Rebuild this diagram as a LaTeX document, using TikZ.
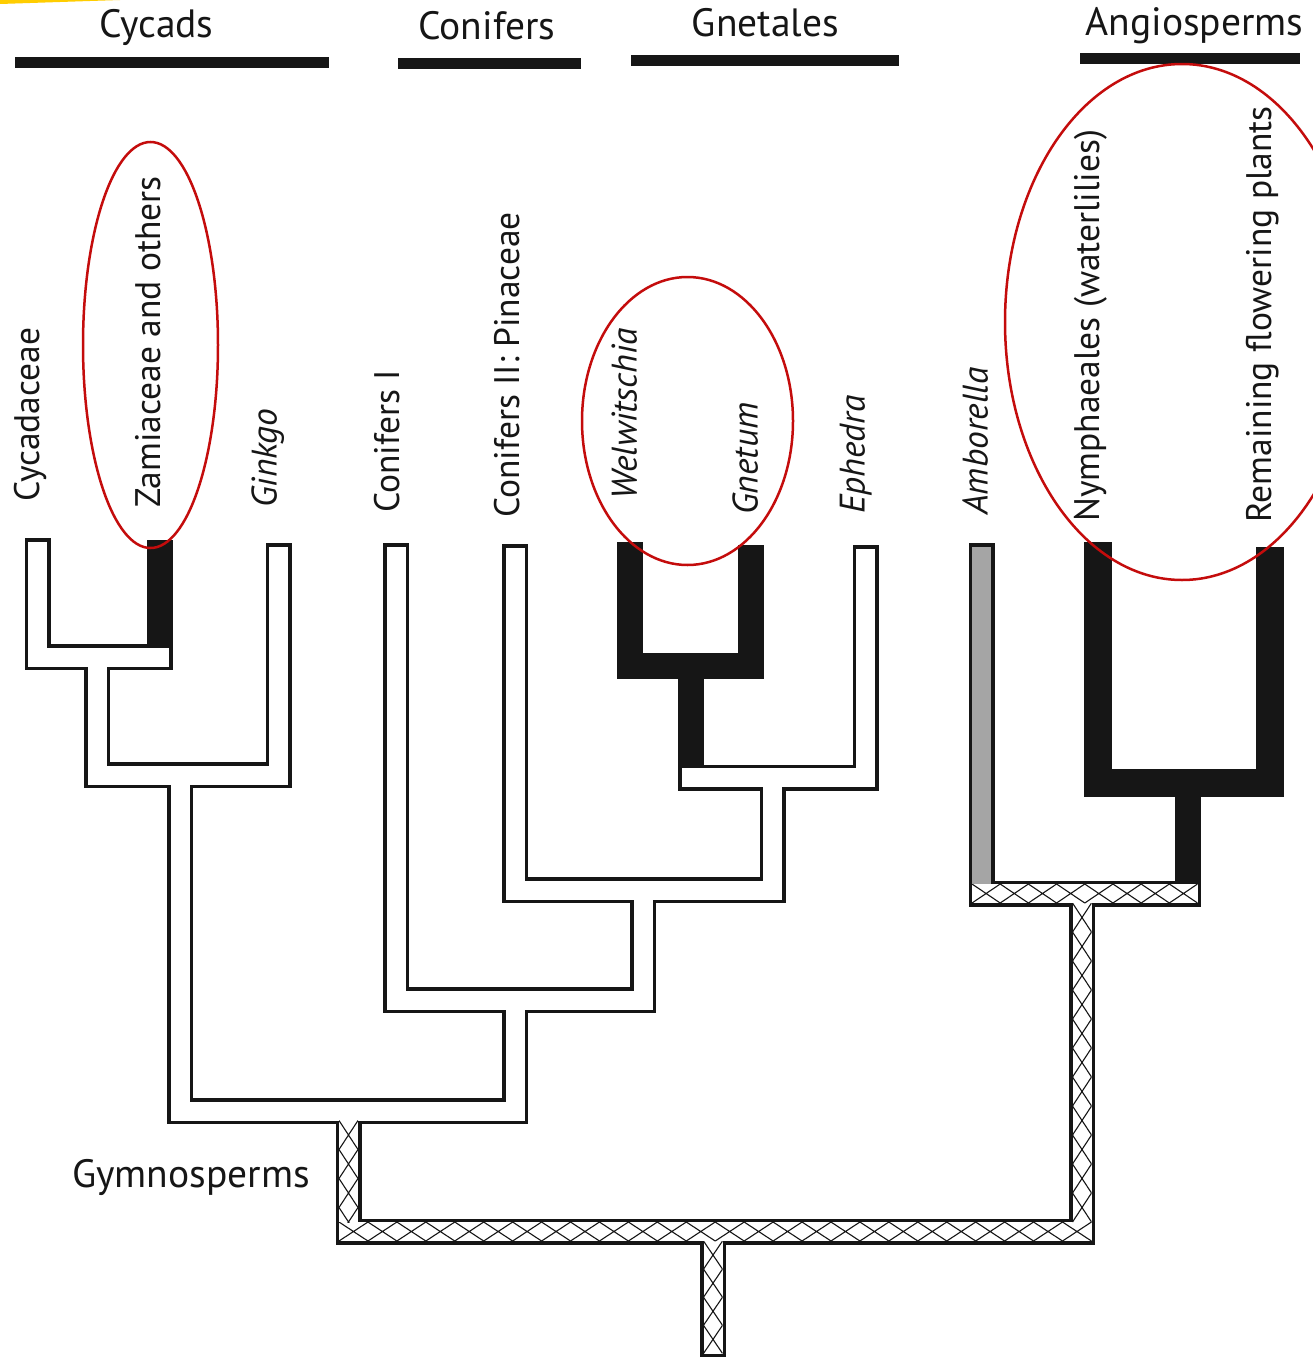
\documentclass[tikz,border=0pt]{standalone}
\usepackage{fontspec}
\setmainfont{PT Sans}
\definecolor{ellred}{RGB}{196,12,12}
\definecolor{ink}{RGB}{22,22,22}
\definecolor{ambgray}{RGB}{165,165,165}
\definecolor{hl}{RGB}{255,205,0}
\begin{document}
\begin{tikzpicture}[x=1pt,y=-1pt,
  casing/.style={line width=26pt,line cap=rect,line join=miter,draw=ink},
  casingwide/.style={casing,line width=28pt},
  innerw/.style={line width=19pt,line cap=rect,line join=miter,draw=white},
  innerg/.style={innerw,draw=ambgray},
  hatch/.style={draw=ink,line width=1.1pt},
  taxon/.style={rotate=90,anchor=mid west,inner sep=0pt,text=ink,font=\fontsize{35.5}{40}\selectfont},
  itaxon/.style={taxon,font=\fontsize{35.5}{40}\selectfont\itshape},
  header/.style={anchor=base,inner sep=0pt,text=ink,font=\fontsize{39.5}{44}\selectfont},
  hbar/.style={fill=ink},
  oval/.style={draw=ellred,line width=2.5pt}]
\useasboundingbox (0,0) rectangle (1312,1360);
\fill[white] (0,0) rectangle (1312,1360);
\fill[hl] (0,0) -- (120,0) -- (0,4) -- cycle;

% tips
\coordinate (cyc) at (37.5,551);
\coordinate (zam) at (159.5,553);
\coordinate (gin) at (278.5,556);
\coordinate (con1) at (396,556);
\coordinate (con2) at (515,557);
\coordinate (wel) at (629.5,555);
\coordinate (gne) at (751,558);
\coordinate (eph) at (865.5,558);
\coordinate (amb) at (981.5,556);
\coordinate (nym) at (1097.5,556);
\coordinate (rem) at (1270,561);
% internal nodes
\coordinate (nCZ) at (97,657);
\coordinate (nCG) at (180,775);
\coordinate (nWG) at (691,666);
\coordinate (nWGE) at (772.5,777.5);
\coordinate (nC2G) at (643,890);
\coordinate (nC1) at (515,1000);
\coordinate (nGym) at (348.5,1111);
\coordinate (nNR) at (1188,782.5);
\coordinate (nAng) at (1082,893.5);
\coordinate (nRoot) at (713,1231.5);
\coordinate (base) at (713,1344);

% pass 1: outlines / black branches
\draw[casing] (cyc) |- (nCZ);
\draw[casing] (zam) |- (nCZ);
\draw[casing] (nCZ) |- (nCG);
\draw[casing] (gin) |- (nCG);
\draw[casing] (nCG) |- (nGym);
\draw[casing] (con1) |- (nC1);
\draw[casing] (con2) |- (nC2G);
\draw[casing] (wel) |- (nWG);
\draw[casing] (gne) |- (nWG);
\draw[casing] (nWG) |- (nWGE);
\draw[casing] (eph) |- (nWGE);
\draw[casing] (nWGE) |- (nC2G);
\draw[casing] (nC2G) |- (nC1);
\draw[casing] (nC1) |- (nGym);
\draw[casing] (nGym) |- (nRoot);
\draw[casing] (amb) |- (nAng);
\draw[casingwide] (nym) |- (nNR);
\draw[casingwide] (rem) |- (nNR);
\draw[casing] (nNR) |- (nAng);
\draw[casing] (nAng) |- (nRoot);
\draw[casing] (nRoot) -- (base);

% pass 2: white interiors
\draw[innerw] (cyc) |- (zam |- nCZ);
\draw[innerw] (nCZ) |- (nCG);
\draw[innerw] (gin) |- (nCG);
\draw[innerw] (nCG) |- (nGym);
\draw[innerw] (con1) |- (nC1);
\draw[innerw] (con2) |- (nC2G);
\draw[innerw] (eph) |- (nWG |- nWGE);
\draw[innerw] (nWGE) |- (nC2G);
\draw[innerw] (nC2G) |- (nC1);
\draw[innerw] (nC1) |- (nGym);
% Amborella grey
\draw[innerg] (amb) -- (amb |- nAng);
% hatched interiors
\draw[innerw] (amb |- nAng) -- (nNR |- nAng);
\draw[innerw] (nAng) |- (nRoot);
\draw[innerw] (nGym) |- (nRoot);
\draw[innerw] (nRoot) -- (base);

% cross-hatching
\begin{scope}
\clip (972,884) rectangle (1197.5,903);
\foreach \i in {0,...,7}{
  \draw[hatch] ({972+\i*28.19},884) -- ({972+(\i+1)*28.19},903)
               ({972+(\i+1)*28.19},884) -- ({972+\i*28.19},903);}
\end{scope}
\begin{scope}
\clip (339,1222) rectangle (1091.5,1241);
\foreach \i in {0,...,25}{
  \draw[hatch] ({339+\i*28.94},1222) -- ({339+(\i+1)*28.94},1241)
               ({339+(\i+1)*28.94},1222) -- ({339+\i*28.94},1241);}
\end{scope}
\begin{scope}
\clip (1072.5,903) rectangle (1091.5,1222);
\foreach \i in {0,...,10}{
  \draw[hatch] (1072.5,{903+\i*29}) -- (1091.5,{903+(\i+1)*29})
               (1091.5,{903+\i*29}) -- (1072.5,{903+(\i+1)*29});}
\end{scope}
\begin{scope}
\clip (339,1120.5) rectangle (358,1222);
\foreach \i in {0,...,3}{
  \draw[hatch] (339,{1120.5+\i*29}) -- (358,{1120.5+(\i+1)*29})
               (358,{1120.5+\i*29}) -- (339,{1120.5+(\i+1)*29});}
\end{scope}
\begin{scope}
\clip (703.5,1241) rectangle (722.5,1353.5);
\foreach \i in {0,...,3}{
  \draw[hatch] (703.5,{1241+\i*28.1}) -- (722.5,{1241+(\i+1)*28.1})
               (722.5,{1241+\i*28.1}) -- (703.5,{1241+(\i+1)*28.1});}
\end{scope}

% header bars and titles
\fill[hbar] (15,57) rectangle (329,68);
\fill[hbar] (398,58) rectangle (581,69);
\fill[hbar] (631,55) rectangle (899,66);
\fill[hbar] (1080,53) rectangle (1300,64);
\node[header] (hCyc) at (156.5,37) {Cycads};
\node[header] (hCon) at (487,39) {Conifers};
\node[header] (hGne) at (765.5,36) {Gnetales};
\node[header] (hAng) at (1194.5,35) {Angiosperms};
\node[anchor=base west,inner sep=0pt,text=ink,font=\fontsize{39.5}{44}\selectfont] (gym) at (72,1187) {Gymnosperms};

% taxon labels
\node[taxon] (lCyc) at (37,502) {Cycadaceae};
\node[taxon] (lZam) at (158,508) {Zamiaceae and others};
\node[itaxon] (lGin) at (274,508) {Ginkgo};
\node[taxon] (lCon1) at (397,513) {Conifers I};
\node[taxon] (lCon2) at (517,518) {Conifers II: Pinaceae};
\node[itaxon] (lWel) at (634,500) {Welwitschia};
\node[itaxon] (lGne) at (755,515) {Gnetum};
\node[itaxon] (lEph) at (862,514) {Ephedra};
\node[itaxon] (lAmb) at (985,515) {Amborella};
\node[taxon] (lNym) at (1097,522) {Nymphaeales (waterlilies)};
\node[taxon] (lRem) at (1269,523) {Remaining flowering plants};

% red ovals
\draw[oval] (150.5,345) ellipse [x radius=67.5, y radius=203];
\draw[oval] (687.5,421) ellipse [x radius=105.5, y radius=144];
\draw[oval] (1182,322) ellipse [x radius=177, y radius=258];
\end{tikzpicture}
\end{document}
